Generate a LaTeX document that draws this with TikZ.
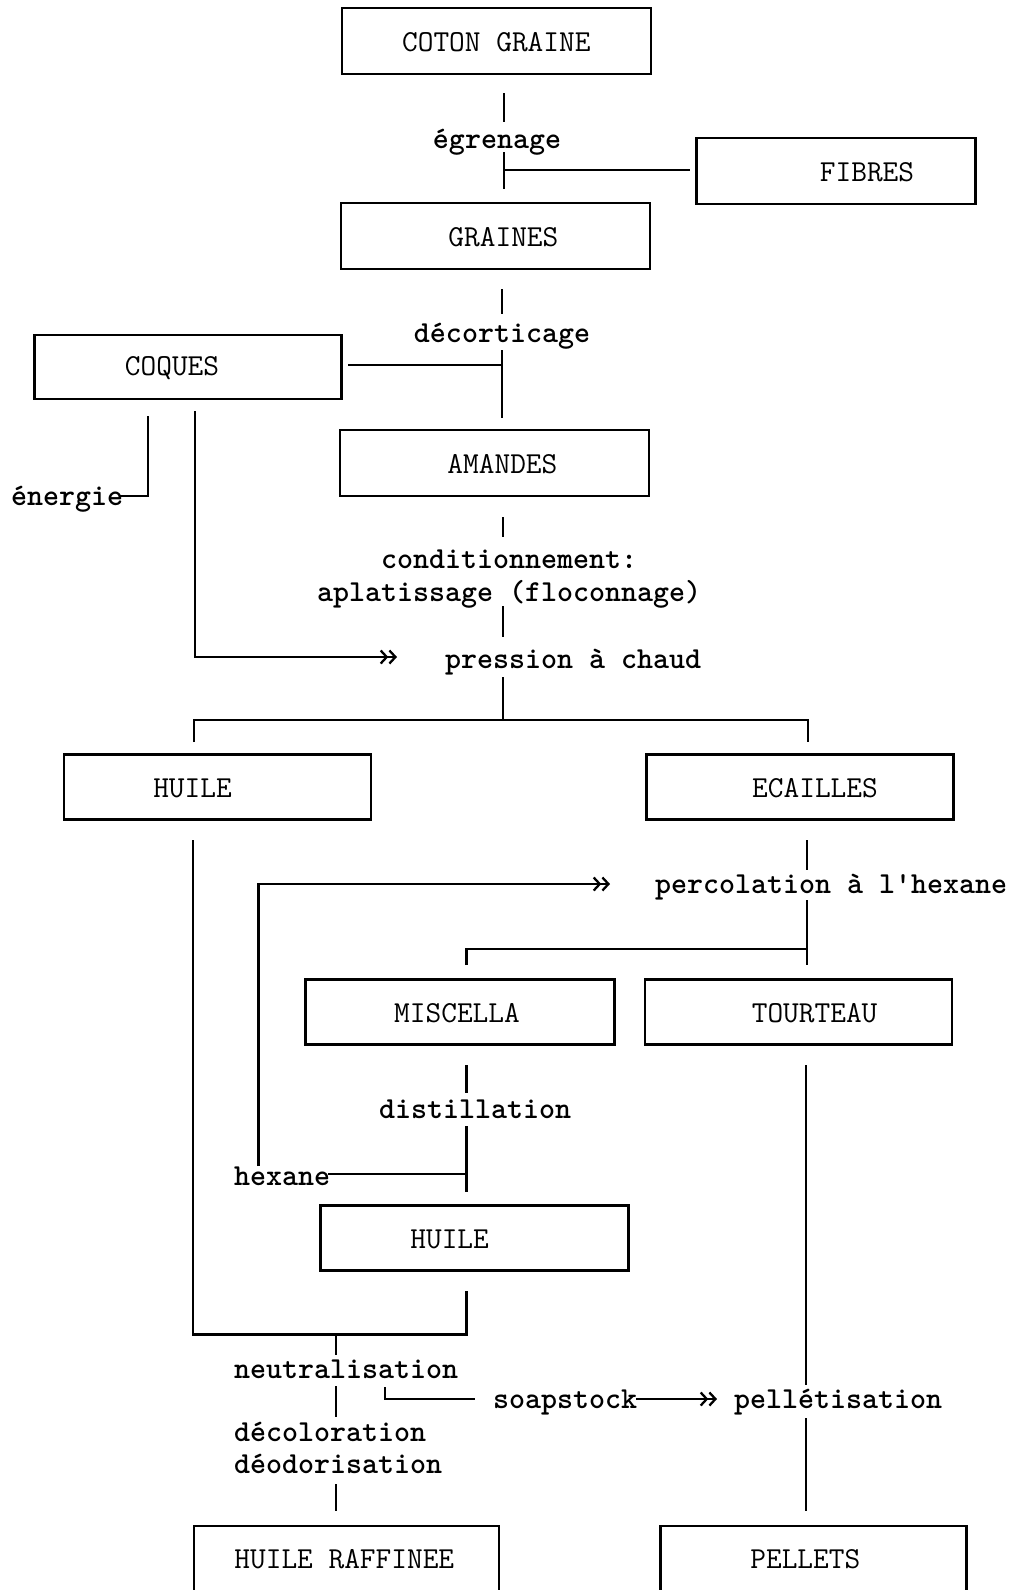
\documentclass[tikz,border=0pt]{standalone}
\usepackage{fontspec}
\usetikzlibrary{arrows.meta}
\begin{document}
\begin{tikzpicture}[x=0.5pt,y=-0.5pt,
  line width=1.15pt,
  every node/.style={font=\ttfamily\fontsize{15.24pt}{18pt}\selectfont, inner sep=0pt},
  box/.style={draw, line width=1.2pt, minimum height=32.5pt},
  txt/.style={anchor=base west, yshift=-1.5pt, font=\ttfamily\bfseries\fontsize{15.24pt}{18pt}\selectfont},
  ctxt/.style={anchor=base, yshift=-1.5pt, font=\ttfamily\bfseries\fontsize{15.24pt}{18pt}\selectfont},
  dbl/.style={-{Straight Barb[length=3pt,width=6.5pt]Straight Barb[length=3pt,width=6.5pt]}}]

% page
\fill[white] (0,0) rectangle (1008,1590);
\clip (0,0) rectangle (1008,1590);

% product boxes
\node[box, minimum width=154.5pt, minimum height=33pt] (coton) at (496.3,41) {};
\node[anchor=center, yshift=-0.5pt] (cotont) at (coton.center) {COTON GRAINE};
\node[box, minimum width=139.5pt, minimum height=33pt] (fibres) at (836,171) {};
\node[anchor=center, xshift=15.5pt, yshift=-0.5pt] (fibrest) at (fibres.center) {FIBRES};
\node[box, minimum width=154.5pt, minimum height=33pt] (graines) at (495.4,236) {};
\node[anchor=center, xshift=4pt, yshift=-0.5pt] (grainest) at (graines.center) {GRAINES};
\node[box, minimum width=153.5pt, minimum height=32pt] (coques) at (188,367) {};
\node[anchor=center, xshift=-8pt, yshift=-0.5pt] (coquest) at (coques.center) {COQUES};
\node[box, minimum width=154.5pt, minimum height=33pt] (amandes) at (494.4,463) {};
\node[anchor=center, xshift=4pt, yshift=-0.5pt] (amandest) at (amandes.center) {AMANDES};
\node[box, minimum width=153.5pt] (huilea) at (217.5,787) {};
\node[anchor=center, xshift=-12.5pt, yshift=-0.5pt] (huileat) at (huilea.center) {HUILE};
\node[box, minimum width=153.5pt] (ecailles) at (800,787) {};
\node[anchor=center, xshift=7.5pt, yshift=-0.5pt] (ecaillest) at (ecailles.center) {ECAILLES};
\node[box, minimum width=154.5pt] (miscella) at (460,1012) {};
\node[anchor=center, xshift=-1.5pt, yshift=-0.5pt] (miscellat) at (miscella.center) {MISCELLA};
\node[box, minimum width=153.5pt] (tourteau) at (798.6,1012) {};
\node[anchor=center, xshift=8pt, yshift=-0.5pt] (tourteaut) at (tourteau.center) {TOURTEAU};
\node[box, minimum width=154pt] (huileb) at (474.6,1238) {};
\node[anchor=center, xshift=-12.5pt, yshift=-0.5pt] (huilebt) at (huileb.center) {HUILE};
\node[box, minimum width=152.5pt] (raffinee) at (346.3,1558.5) {};
\node[anchor=center, xshift=-1pt, yshift=-0.5pt] (raffineet) at (raffinee.center) {HUILE RAFFINEE};
\node[box, minimum width=153pt] (pellets) at (813.3,1558.5) {};
\node[anchor=center, xshift=-4pt, yshift=-0.5pt] (pelletst) at (pellets.center) {PELLETS};

% operations
\node[ctxt] (egrenage) at (497,145) {égrenage};
\node[ctxt] (decorticage) at (502,339) {décorticage};
\node[txt] (energie) at (10,502) {énergie};
\node[txt] (conditionnement) at (380,565) {conditionnement:};
\node[txt] (aplatissage) at (316,598) {aplatissage (floconnage)};
\node[txt] (pression) at (444,665) {pression à chaud};
\node[txt] (percolation) at (654,890) {percolation à l'hexane};
\node[txt] (distillation) at (378,1115) {distillation};
\node[txt] (hexane) at (233,1182) {hexane};
\node[txt] (neutralisation) at (233,1375) {neutralisation};
\node[txt] (soapstock) at (492,1405) {soapstock};
\node[txt] (pelletisation) at (733,1405) {pellétisation};
\node[txt] (decoloration) at (233,1438) {décoloration};
\node[txt] (deodorisation) at (233,1470) {déodorisation};

% junction points
\coordinate (jfib) at (504,170);
\coordinate (jcoq) at (502,365);
\coordinate (jpress) at (503,720);
\coordinate (jperc) at (807,949);
\coordinate (jhex) at (466.5,1174);
\coordinate (jhuile) at (335.7,1334.5);

% coton graine -> graines, fibres
\draw (504,93) -- (504,122);
\draw (504,152) -- (504,189);
\draw (jfib) -- (690,170);

% graines -> amandes, coques
\draw (502,289) -- (502,314);
\draw (502,350) -- (502,418);
\draw (348,365) -- (jcoq);

% coques -> energie, pression
\draw (148,416) -- (148,496) -- (120,496);
\draw[dbl] (195,411) -- (195,657) -- (397,657);

% amandes -> pression -> huile, ecailles
\draw (503,517) -- (503,537);
\draw (503,606) -- (503,637);
\draw (503,677) -- (jpress);
\draw (194,742) -- (194,720) -- (808,720) -- (808,742);

% ecailles -> percolation -> miscella, tourteau
\draw (807,840) -- (807,870);
\draw (807,900) -- (807,965);
\draw (466.5,965) -- (466.5,949) -- (jperc);

% miscella -> distillation -> huile, hexane recycled
\draw (466.5,1065) -- (466.5,1093);
\draw (466.5,1126) -- (466.5,1192);
\draw (328,1174) -- (jhex);
\draw[dbl] (258.6,1166) -- (258.6,884) -- (610,884);

% both oils -> refining
\draw (192.7,840) -- (192.7,1334.5) -- (466.5,1334.5) -- (466.5,1291);
\draw (jhuile) -- (335.7,1355);
\draw (335.7,1386) -- (335.7,1417);
\draw (335.7,1484) -- (335.7,1511);

% soapstock -> pelletisation
\draw (385,1387) -- (385,1399) -- (474.6,1399);
\draw[dbl] (636,1399) -- (717,1399);

% tourteau -> pelletisation -> pellets
\draw (806,1065) -- (806,1385);
\draw (806,1418) -- (806,1511);
\end{tikzpicture}
\end{document}
